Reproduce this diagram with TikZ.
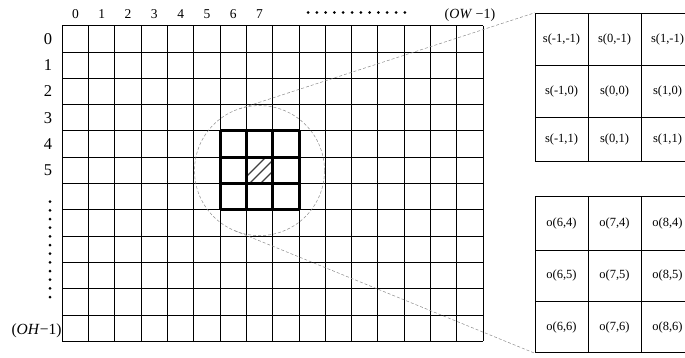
\documentclass[tikz,border=0pt]{standalone}
\usepackage{fontspec}
\setmainfont{Liberation Serif}
\usepackage{tikz}
\usetikzlibrary{calc}
\definecolor{zoomgray}{HTML}{8C8C8C}

\begin{document}
\begin{tikzpicture}[
  x=1pt, y=-1pt,
  cellbox/.style={draw, line width=0.9pt, minimum width=53, inner sep=0pt, font=\fontsize{12.5}{14}\selectfont},
  gridline/.style={line width=0.9pt},
  kernline/.style={line width=3pt},
  zoomline/.style={zoomgray, line width=0.5pt, dash pattern=on 3pt off 2pt},
  idx/.style={font=\fontsize{13.5}{15}\selectfont},
  rowidx/.style={font=\fontsize{16.5}{18}\selectfont}
]
\useasboundingbox (0,0) rectangle (685,358);

% output map -- 16 x 12 cells, cell side 26.3
\foreach \i in {0,...,16}
  \draw[gridline] (62.3+\i*26.3,25.7) -- (62.3+\i*26.3,341.3);
\foreach \j in {0,...,12}
  \draw[gridline] (62.3,25.7+\j*26.3) -- (483.1,25.7+\j*26.3);

% column and row indices
\foreach \i in {0,...,7}
  \node[idx] (c\i) at (75.45+\i*26.3,14) {\i};
\foreach \j in {0,...,5}
  \node[rowidx] (r\j) at (48,38.85+\j*26.3) {\j};
\node[font=\fontsize{14}{16}\selectfont] (ow) at (470,15) {(\textit{OW} −1)};
\node[font=\fontsize{15.5}{17}\selectfont] (oh) at (36.5,330.5) {(\textit{OH}−1)};

% ellipsis dots along the top and down the left side
\foreach \k in {0,...,11} {
  \fill (308+\k*8.8,12.5) circle (1.5);
  \fill (50,201.7+\k*8.67) circle (1.5);
}

% hatched centre cell (7,5), clipped to the cell
\begin{scope}
  \clip (246.4,157.2) rectangle (272.7,183.5);
  \foreach \c in {423,433,444}
    \draw[line width=1.2pt, black!75] (\c-190,190) -- (\c-150,150);
\end{scope}

% 3 x 3 kernel window over cells 6..8 / 4..6 -- every line heavy
\foreach \i in {0,...,3} {
  \draw[kernline] (220.1+\i*26.3,130.9) -- (220.1+\i*26.3,209.8);
  \draw[kernline] (220.1,130.9+\i*26.3) -- (299,130.9+\i*26.3);
}

% zoom circle round the window
\node[circle, draw, zoomline, minimum size=130, inner sep=0pt, outer sep=0pt] (zoomc) at (259.5,170.6) {};

% weights s(dx,dy)
\node[cellbox, minimum height=52.4] (s00) at (561.5,39.5)  {s(-1,-1)};
\node[cellbox, minimum height=52.4] (s01) at (614.5,39.5)  {s(0,-1)};
\node[cellbox, minimum height=52.4] (s02) at (667.5,39.5)  {s(1,-1)};
\node[cellbox, minimum height=52]   (s10) at (561.5,91.7)  {s(-1,0)};
\node[cellbox, minimum height=52]   (s11) at (614.5,91.7)  {s(0,0)};
\node[cellbox, minimum height=52]   (s12) at (667.5,91.7)  {s(1,0)};
\node[cellbox, minimum height=44]   (s20) at (561.5,139.7) {s(-1,1)};
\node[cellbox, minimum height=44]   (s21) at (614.5,139.7) {s(0,1)};
\node[cellbox, minimum height=44]   (s22) at (667.5,139.7) {s(1,1)};

% outputs o(x,y) under the window
\node[cellbox, minimum height=53.3] (o00) at (561.5,223.35) {o(6,4)};
\node[cellbox, minimum height=53.3] (o01) at (614.5,223.35) {o(7,4)};
\node[cellbox, minimum height=53.3] (o02) at (667.5,223.35) {o(8,4)};
\node[cellbox, minimum height=51.7] (o10) at (561.5,275.85) {o(6,5)};
\node[cellbox, minimum height=51.7] (o11) at (614.5,275.85) {o(7,5)};
\node[cellbox, minimum height=51.7] (o12) at (667.5,275.85) {o(8,5)};
\node[cellbox, minimum height=51]   (o20) at (561.5,327.2)  {o(6,6)};
\node[cellbox, minimum height=51]   (o21) at (614.5,327.2)  {o(7,6)};
\node[cellbox, minimum height=51]   (o22) at (667.5,327.2)  {o(8,6)};

% zoom lines -- tangent to the circle, ending on the outer box corners
\coordinate (tTop) at (tangent cs:node=zoomc,point={(s00.north west)},solution=1);
\coordinate (tBot) at (tangent cs:node=zoomc,point={(o20.south west)},solution=2);
\draw[zoomline] (tTop) -- (s00.north west);
\draw[zoomline] (tBot) -- (o20.south west);
\end{tikzpicture}
\end{document}
